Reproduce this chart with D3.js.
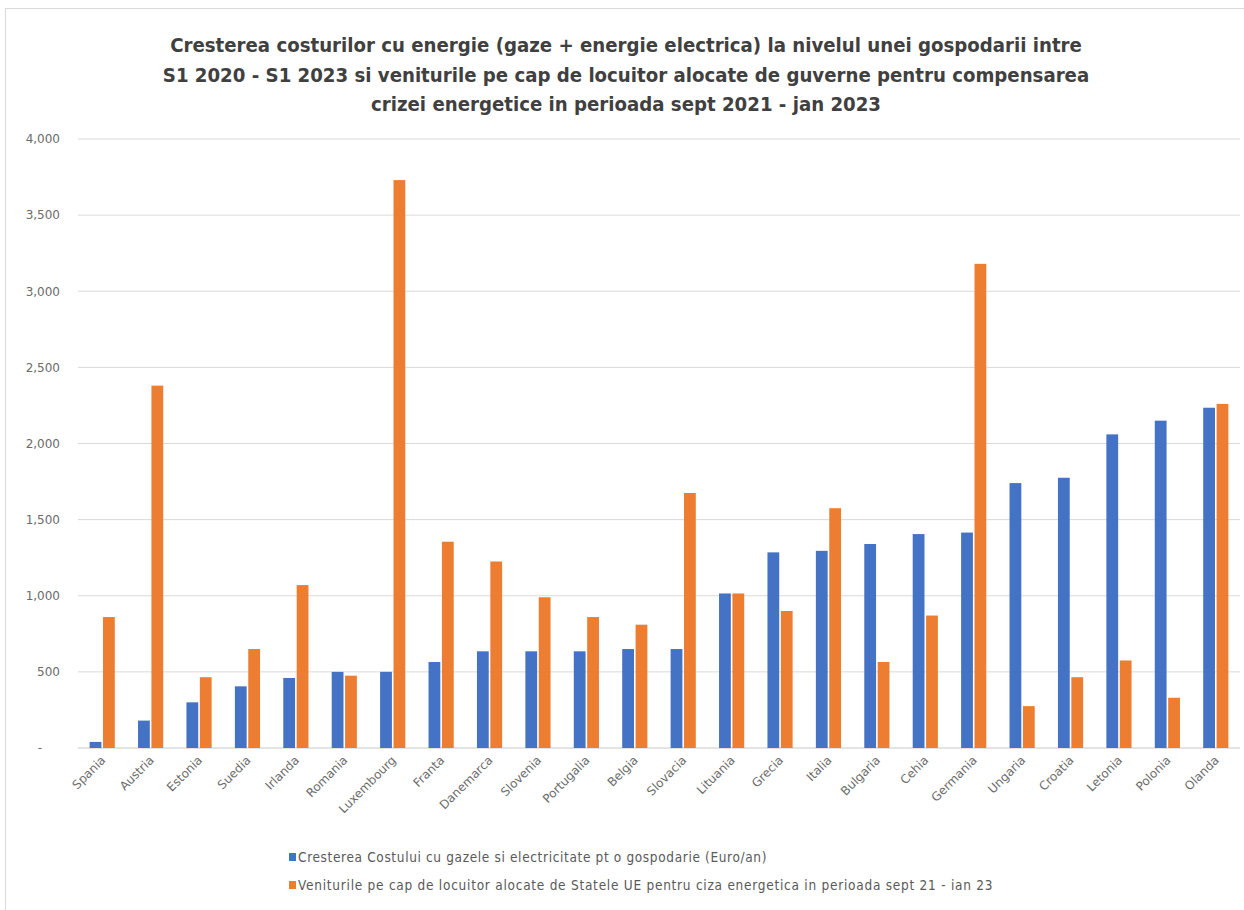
<!DOCTYPE html>
<html><head><meta charset="utf-8">
<script src="https://cdn.jsdelivr.net/npm/d3@7"></script>
<style>body{margin:0;background:#fff}</style>
</head><body>
<svg id="c" width="1244" height="910"></svg>
<script>
const categories = ["Spania","Austria","Estonia","Suedia","Irlanda","Romania","Luxembourg","Franta","Danemarca","Slovenia","Portugalia","Belgia","Slovacia","Lituania","Grecia","Italia","Bulgaria","Cehia","Germania","Ungaria","Croatia","Letonia","Polonia","Olanda"];
const costIncrease = [40,180,300,405,460,500,500,565,635,635,635,650,650,1015,1285,1295,1340,1405,1415,1740,1775,2060,2150,2235];
const allocated = [860,2380,465,650,1070,475,3730,1355,1225,990,860,810,1675,1015,900,1575,565,870,3180,275,465,575,330,2260];
const yTicks = [0,500,1000,1500,2000,2500,3000,3500,4000];
const seriesNames = ["Cresterea Costului cu gazele si electricitate pt o gospodarie (Euro/an)","Veniturile pe cap de locuitor alocate de Statele UE pentru ciza energetica in perioada sept 21 - ian 23"];
const titleLines = ["Cresterea costurilor cu energie (gaze + energie electrica) la nivelul unei gospodarii intre","S1 2020 - S1 2023 si veniturile pe cap de locuitor alocate de guverne pentru compensarea","crizei energetice in perioada sept 2021 - jan 2023"];
const colors = ["#4472C4","#ED7D31"];

(function(){
const svg = d3.select("#c");
const font = "'Liberation Sans Narrow','DejaVu Sans Condensed',sans-serif";
svg.append("rect").attr("x",5.5).attr("y",8.5).attr("width",1250).attr("height",910).attr("fill","#fff").attr("stroke","#d9d9d9");

const pl=78, pr=1240, pt=139, pb=748;
const x = d3.scaleBand().domain(categories).range([pl,pr]).paddingInner(0.48).paddingOuter(0.24);
const xs = d3.scaleBand().domain([0,1]).range([0,x.bandwidth()]).paddingInner(0.12);
const y = d3.scaleLinear().domain([0,4000]).range([pb,pt]);

svg.append("g").selectAll("text").data(titleLines).join("text")
  .attr("x",626).attr("y",(d,i)=>52+i*29.5).attr("text-anchor","middle")
  .attr("font-family",font).attr("font-weight","bold").attr("font-size",20.2).attr("fill","#404040").text(d=>d);

svg.append("g").selectAll("line").data(yTicks.filter(t=>t>0)).join("line")
  .attr("x1",pl).attr("x2",pr).attr("y1",d=>y(d)).attr("y2",d=>y(d)).attr("stroke","#d9d9d9");
svg.append("line").attr("x1",pl).attr("x2",pr).attr("y1",y(0)).attr("y2",y(0)).attr("stroke","#c8c8c8");

const yAxis = d3.axisLeft(y).tickValues(yTicks).tickSize(0).tickPadding(0)
  .tickFormat(d=> d===0 ? "-" : d3.format(",")(d));
const ga = svg.append("g").attr("transform",`translate(60,0)`).call(yAxis);
ga.select(".domain").remove();
ga.selectAll("text").attr("font-family","'DejaVu Sans',sans-serif").attr("font-size",12).attr("fill","#6b6b6b");
ga.selectAll(".tick").filter(d=>d===0).select("text").attr("dx",-18);

const g = svg.append("g");
[costIncrease, allocated].forEach((arr,s)=>{
  g.append("g").selectAll("rect").data(arr).join("rect")
    .attr("x",(d,i)=>x(categories[i])+xs(s)).attr("width",xs.bandwidth())
    .attr("y",d=>y(d)).attr("height",d=>y(0)-y(d)).attr("fill",colors[s]);
});

const xAxis = d3.axisBottom(x).tickSize(0).tickPadding(0);
const gx = svg.append("g").attr("transform",`translate(0,${pb})`).call(xAxis);
gx.select(".domain").remove();
gx.selectAll("text").attr("font-family","'DejaVu Sans',sans-serif").attr("font-size",12).attr("fill","#6b6b6b")
  .attr("text-anchor","end").attr("dy",0).attr("transform","translate(4,13) rotate(-45)");

const lg = svg.append("g").selectAll("g").data(seriesNames).join("g")
  .attr("transform",(d,i)=>`translate(289,${858+i*28})`);
lg.append("rect").attr("x",0).attr("y",-5).attr("width",7).attr("height",8).attr("fill",(d,i)=>colors[i]);
lg.append("text").attr("x",9).attr("y",3.5).attr("font-family",font).attr("font-size",13.5)
  .attr("letter-spacing",(d,i)=>i===0?0.65:0.75).attr("fill","#595959").text(d=>d);
})();
</script>
</body></html>
